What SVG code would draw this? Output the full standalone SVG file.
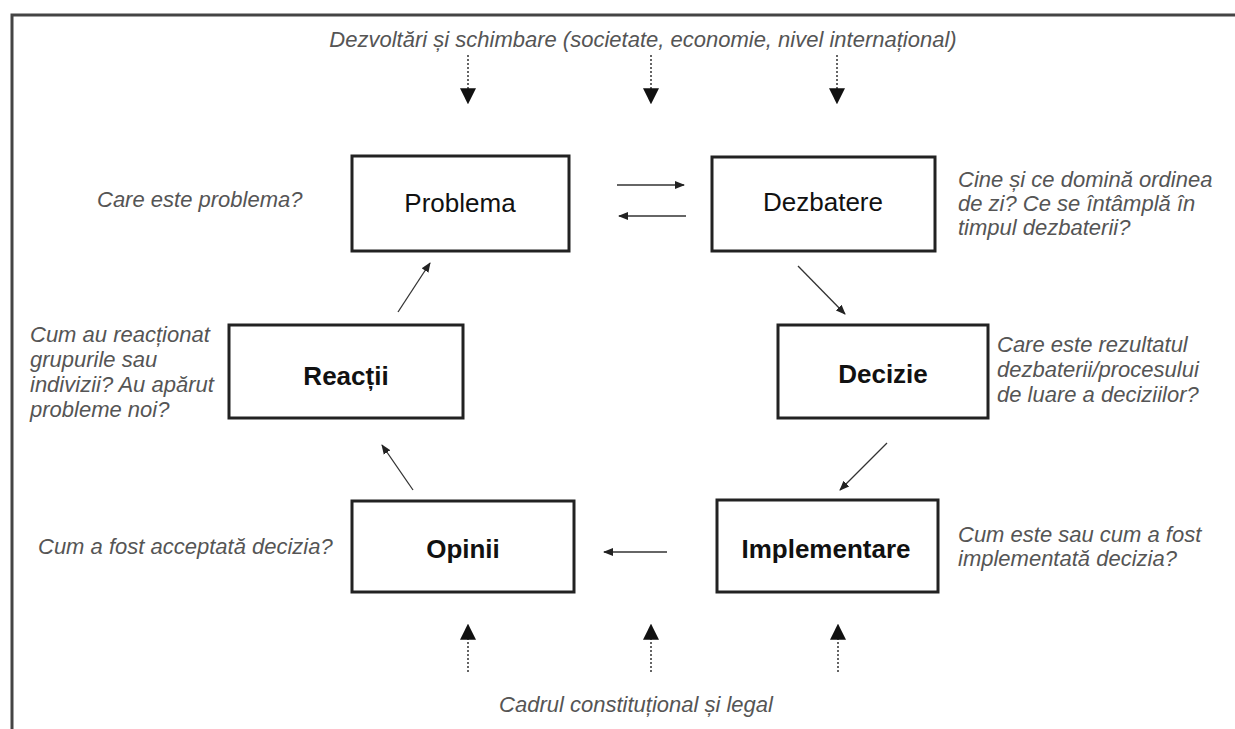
<svg xmlns="http://www.w3.org/2000/svg" width="1235" height="729" viewBox="0 0 1235 729">
<defs>
<style>
.box{fill:#fff;stroke:#222;stroke-width:3}
.lbl{font-family:"Liberation Sans",Arial,sans-serif;font-size:26px;fill:#111;text-anchor:middle}
.b{font-weight:bold}
.q{font-family:"Liberation Sans",Arial,sans-serif;font-size:22px;font-style:italic;fill:#555}
.c{stroke:#333;stroke-width:1.3;fill:none}
.d{stroke:#333;stroke-width:1.5;fill:none;stroke-dasharray:2 2}
</style>
<marker id="ah" viewBox="0 0 10 10" refX="9" refY="5" markerWidth="10" markerHeight="10" markerUnits="userSpaceOnUse" orient="auto"><path d="M0,1 L10,5 L0,9 Z" fill="#222"/></marker>
<marker id="big" viewBox="0 0 12 12" refX="11" refY="6" markerWidth="16" markerHeight="16" markerUnits="userSpaceOnUse" orient="auto"><path d="M0,0 L12,6 L0,12 Z" fill="#111"/></marker>
</defs>
<rect width="1235" height="729" fill="#fff"/>
<g id="frame" stroke="#444" stroke-width="3" fill="none"><path d="M12,729 L12,15 L1235,15"/></g>

<g id="top-text"><text class="q" x="643" y="47" text-anchor="middle">Dezvoltări și schimbare (societate, economie, nivel internațional)</text></g>
<g id="bottom-text"><text class="q" x="636" y="712" text-anchor="middle">Cadrul constituțional și legal</text></g>

<g id="problema"><rect class="box" x="352" y="156" width="217" height="95"/><text class="lbl" x="460" y="212">Problema</text>
<text class="q" x="97" y="207">Care este problema?</text></g>
<g id="dezbatere"><rect class="box" x="712" y="157" width="223" height="94"/><text class="lbl" x="823" y="211">Dezbatere</text>
<text class="q" x="958" y="187">Cine și ce domină ordinea</text><text class="q" x="958" y="211">de zi? Ce se întâmplă în</text><text class="q" x="958" y="235">timpul dezbaterii?</text></g>
<g id="decizie"><rect class="box" x="778" y="325" width="210" height="93"/><text class="lbl b" x="883" y="383">Decizie</text>
<text class="q" x="997" y="352">Care este rezultatul</text><text class="q" x="997" y="377">dezbaterii/procesului</text><text class="q" x="997" y="402">de luare a deciziilor?</text></g>
<g id="implementare"><rect class="box" x="717" y="500" width="221" height="92"/><text class="lbl b" x="826" y="558">Implementare</text>
<text class="q" x="958" y="542">Cum este sau cum a fost</text><text class="q" x="958" y="566">implementată decizia?</text></g>
<g id="opinii"><rect class="box" x="352" y="501" width="222" height="91"/><text class="lbl b" x="463" y="558">Opinii</text>
<text class="q" x="38" y="554">Cum a fost acceptată decizia?</text></g>
<g id="reactii"><rect class="box" x="229" y="325" width="234" height="93"/><text class="lbl b" x="346" y="385">Reacții</text>
<text class="q" x="30" y="342">Cum au reacționat</text><text class="q" x="30" y="367">grupurile sau</text><text class="q" x="30" y="392">indivizii? Au apărut</text><text class="q" x="30" y="417">probleme noi?</text></g>

<g id="connectors">
<path class="c" d="M617,185 L684,185" marker-end="url(#ah)"/>
<path class="c" d="M686,216 L619,216" marker-end="url(#ah)"/>
<path class="c" d="M798,266 L845,314" marker-end="url(#ah)"/>
<path class="c" d="M887,443 L840,490" marker-end="url(#ah)"/>
<path class="c" d="M667,552 L604,552" marker-end="url(#ah)"/>
<path class="c" d="M413,490 L382,445" marker-end="url(#ah)"/>
<path class="c" d="M398,312 L430,263" marker-end="url(#ah)"/>
<path class="d" d="M468,55 L468,103" marker-end="url(#big)"/>
<path class="d" d="M651,55 L651,103" marker-end="url(#big)"/>
<path class="d" d="M837,55 L837,103" marker-end="url(#big)"/>
<path class="d" d="M468,672 L468,625" marker-end="url(#big)"/>
<path class="d" d="M651,672 L651,625" marker-end="url(#big)"/>
<path class="d" d="M838,672 L838,625" marker-end="url(#big)"/>
</g>
</svg>
